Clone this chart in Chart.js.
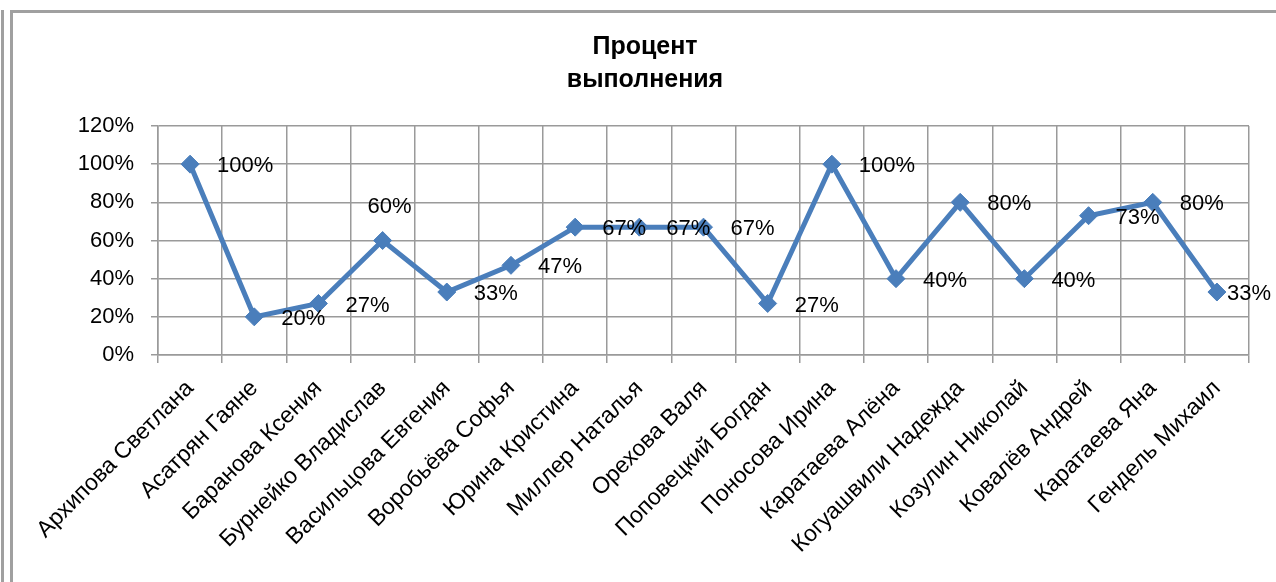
<!DOCTYPE html>
<html>
<head>
<meta charset="utf-8">
<script src="https://cdn.jsdelivr.net/npm/chart.js@4/dist/chart.umd.min.js"></script>
<style>
  html, body { margin: 0; padding: 0; background: #ffffff; }
  #wrap { width: 1276px; height: 582px; position: relative; }
</style>
</head>
<body>
<div id="wrap"><canvas id="c" width="1276" height="582"></canvas></div>
<script>
// ---- data ----
const titleLines = ["Процент", "выполнения"];
const categories = [
  "Архипова Светлана", "Асатрян Гаяне", "Баранова Ксения", "Бурнейко Владислав",
  "Васильцова Евгения", "Воробьёва Софья", "Юрина Кристина", "Миллер Наталья",
  "Орехова Валя", "Поповецкий Богдан", "Поносова Ирина", "Каратаева Алёна",
  "Когуашвили Надежда", "Козулин Николай", "Ковалёв Андрей", "Каратаева Яна",
  "Гендель Михаил"
];
const percentDone = [100, 20, 27, 60, 33, 47, 67, 67, 67, 27, 100, 40, 80, 40, 73, 80, 33];
const yMin = 0;
const yMax = 120;
const yStep = 20;
const labelsAbove = [3]; // data labels placed above the point instead of to the right

const FONT = "'Liberation Sans', Arial, sans-serif";
const LINE_COLOR = "#4a7ebb";
const GRID_COLOR = "#9a9a9a";

// decorative frame (chart border from the source document)
const framePlugin = {
  id: 'frame',
  beforeDraw(chart) {
    const ctx = chart.ctx;
    ctx.save();
    ctx.fillStyle = '#a0a0a0';
    ctx.fillRect(1, 10, 3, chart.height - 10);
    ctx.fillRect(10, 10, 3, chart.height - 10);
    ctx.fillRect(10, 10, chart.width - 10, 3);
    ctx.restore();
  }
};

// data labels
const dataLabelPlugin = {
  id: 'pctLabels',
  afterDatasetsDraw(chart) {
    const ctx = chart.ctx;
    const meta = chart.getDatasetMeta(0);
    ctx.save();
    ctx.font = "22px " + FONT;
    ctx.fillStyle = "#000000";
    ctx.textBaseline = "middle";
    meta.data.forEach((pt, i) => {
      const txt = percentDone[i] + "%";
      const w = ctx.measureText(txt).width;
      if (labelsAbove.includes(i)) {
        ctx.textAlign = "center";
        ctx.fillText(txt, pt.x + 7, pt.y - 34);
      } else {
        ctx.textAlign = "left";
        let x = pt.x + 27;
        if (x + w > chart.width - 5) x = chart.width - 5 - w;
        ctx.fillText(txt, x, pt.y + 2);
      }
    });
    ctx.restore();
  }
};

new Chart(document.getElementById('c'), {
  type: 'line',
  data: {
    labels: categories,
    datasets: [{
      data: percentDone,
      borderColor: LINE_COLOR,
      backgroundColor: LINE_COLOR,
      borderWidth: 5,
      pointStyle: 'rectRot',
      pointRadius: 9,
      pointBorderWidth: 1,
      pointBackgroundColor: LINE_COLOR,
      pointBorderColor: LINE_COLOR,
      tension: 0,
      fill: false
    }]
  },
  options: {
    responsive: false,
    animation: false,
    events: [],
    layout: { padding: { left: 41, right: 27, top: 0, bottom: 0 } },
    plugins: {
      legend: { display: false },
      tooltip: { enabled: false },
      title: {
        display: true,
        text: titleLines,
        color: '#000000',
        font: { family: FONT, size: 25, weight: 'bold', lineHeight: 1.3 },
        padding: { top: 31, bottom: 30 }
      }
    },
    scales: {
      x: {
        type: 'category',
        offset: true,
        grid: { offset: true, color: GRID_COLOR, lineWidth: 1.5, tickLength: 8, drawTicks: true },
        border: { display: true, color: GRID_COLOR, width: 1.5 },
        ticks: {
          color: '#000000',
          font: { family: FONT, size: 23 },
          minRotation: 45,
          maxRotation: 45,
          autoSkip: false,
          padding: 12
        },
        afterFit(scale) { scale.height = 582 - 355; }
      },
      y: {
        min: yMin,
        max: yMax,
        grid: { color: GRID_COLOR, lineWidth: 1.5, tickLength: 7 },
        border: { display: true, color: GRID_COLOR, width: 1.5 },
        ticks: {
          stepSize: yStep,
          color: '#000000',
          font: { family: FONT, size: 22 },
          padding: 17,
          callback: (v) => v + '%'
        },
        afterFit(scale) { scale.width = 158 - 41; }
      }
    }
  },
  plugins: [framePlugin, dataLabelPlugin]
});
</script>
</body>
</html>
